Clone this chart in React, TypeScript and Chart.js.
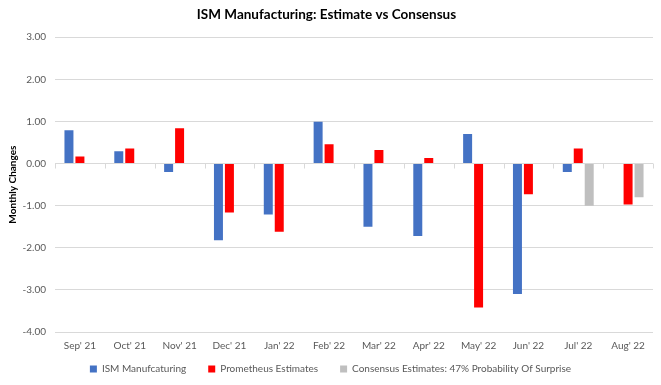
import React, { useEffect, useRef } from "react";
import { Chart, registerables } from "chart.js";

Chart.register(...registerables);

const categories = ["Sep' 21", "Oct' 21", "Nov' 21", "Dec' 21", "Jan' 22", "Feb' 22", "Mar' 22", "Apr' 22", "May' 22", "Jun' 22", "Jul' 22", "Aug' 22"];
const ismValues = [0.79, 0.29, -0.2, -1.82, -1.21, 0.99, -1.5, -1.72, 0.7, -3.1, -0.2, null];
const prometheusValues = [0.17, 0.36, 0.84, -1.16, -1.62, 0.46, 0.32, 0.13, -3.42, -0.73, 0.36, -0.97];
const consensusValues = [null, null, null, null, null, null, null, null, null, null, -1.0, -0.8];

const FONT = "Lato, 'Open Sans', sans-serif";

const zeroTicks = {
  id: "zeroTicks",
  afterLayout(chart: any) {
    const lg = chart.legend;
    if (lg) {
      const shift = 12;
      lg.top -= shift;
      lg.bottom -= shift;
      lg.left = 0;
      lg.right = chart.width;
      lg.width = chart.width;
    }
  },
  afterDatasetsDraw(chart: any) {
    const x = chart.scales.x;
    const y = chart.scales.y;
    const ctx = chart.ctx;
    const y0 = y.getPixelForValue(0);
    const n = categories.length;
    ctx.save();
    ctx.strokeStyle = "#d9d9d9";
    ctx.lineWidth = 1;
    ctx.beginPath();
    for (let i = 0; i <= n; i++) {
      let px;
      if (i === 0) px = x.left;
      else if (i === n) px = x.right;
      else px = (x.getPixelForValue(i - 1) + x.getPixelForValue(i)) / 2;
      px = Math.round(px) + 0.5;
      ctx.moveTo(px, y0);
      ctx.lineTo(px, y0 + 5);
    }
    ctx.stroke();
    ctx.restore();
  },
};

export default function App() {
  const ref = useRef<HTMLCanvasElement>(null);
  useEffect(() => {
    document.body.style.margin = "0";
    const chart = new Chart(ref.current!, {
      type: "bar",
      data: {
        labels: categories,
        datasets: [
          { label: "ISM Manufcaturing", data: ismValues, backgroundColor: "#4472C4", barPercentage: 0.82, categoryPercentage: 0.66 },
          { label: "Prometheus Estimates", data: prometheusValues, backgroundColor: "#FF0000", barPercentage: 0.82, categoryPercentage: 0.66 },
          { label: "Consensus Estimates: 47% Probability Of Surprise", data: consensusValues, backgroundColor: "#BFBFBF", barPercentage: 0.82, categoryPercentage: 0.66 },
        ],
      },
      options: {
        animation: false,
        responsive: false,
        maintainAspectRatio: false,
        layout: { padding: { top: 0, right: 8, bottom: -11, left: 0 } },
        plugins: {
          title: {
            display: true,
            text: "ISM Manufacturing: Estimate vs Consensus",
            color: "#000",
            font: { family: FONT, size: 13.5, weight: "bold" },
            padding: { top: 7, bottom: 14 },
          },
          legend: {
            position: "bottom",
            labels: {
              boxWidth: 7,
              boxHeight: 7,
              padding: 22,
              color: "#595959",
              font: { family: FONT, size: 10 },
            },
          },
          tooltip: { enabled: false },
        },
        scales: {
          x: {
            grid: { display: false, drawTicks: false },
            border: { display: false },
            ticks: { color: "#595959", font: { family: FONT, size: 10 }, maxRotation: 0, autoSkip: false, padding: 8 },
            afterFit: (s: any) => { s.height = 22; },
          },
          y: {
            min: -4,
            max: 3,
            grid: { color: "#d9d9d9", drawTicks: false },
            border: { display: false },
            ticks: { stepSize: 1, color: "#595959", font: { family: FONT, size: 10 }, padding: 9, callback: (v: any) => Number(v).toFixed(2) },
            title: { display: true, text: "Monthly Changes", color: "#000", font: { family: FONT, size: 10, weight: "bold" }, padding: { top: 7, bottom: 0 } },
            afterFit: (s: any) => { s.width = 55; },
          },
        },
      },
      plugins: [zeroTicks],
    });
    return () => chart.destroy();
  }, []);
  return (
    <div style={{ width: 661, height: 385 }}>
      <canvas ref={ref} width={661} height={385} style={{ width: 661, height: 385 }} />
    </div>
  );
}
